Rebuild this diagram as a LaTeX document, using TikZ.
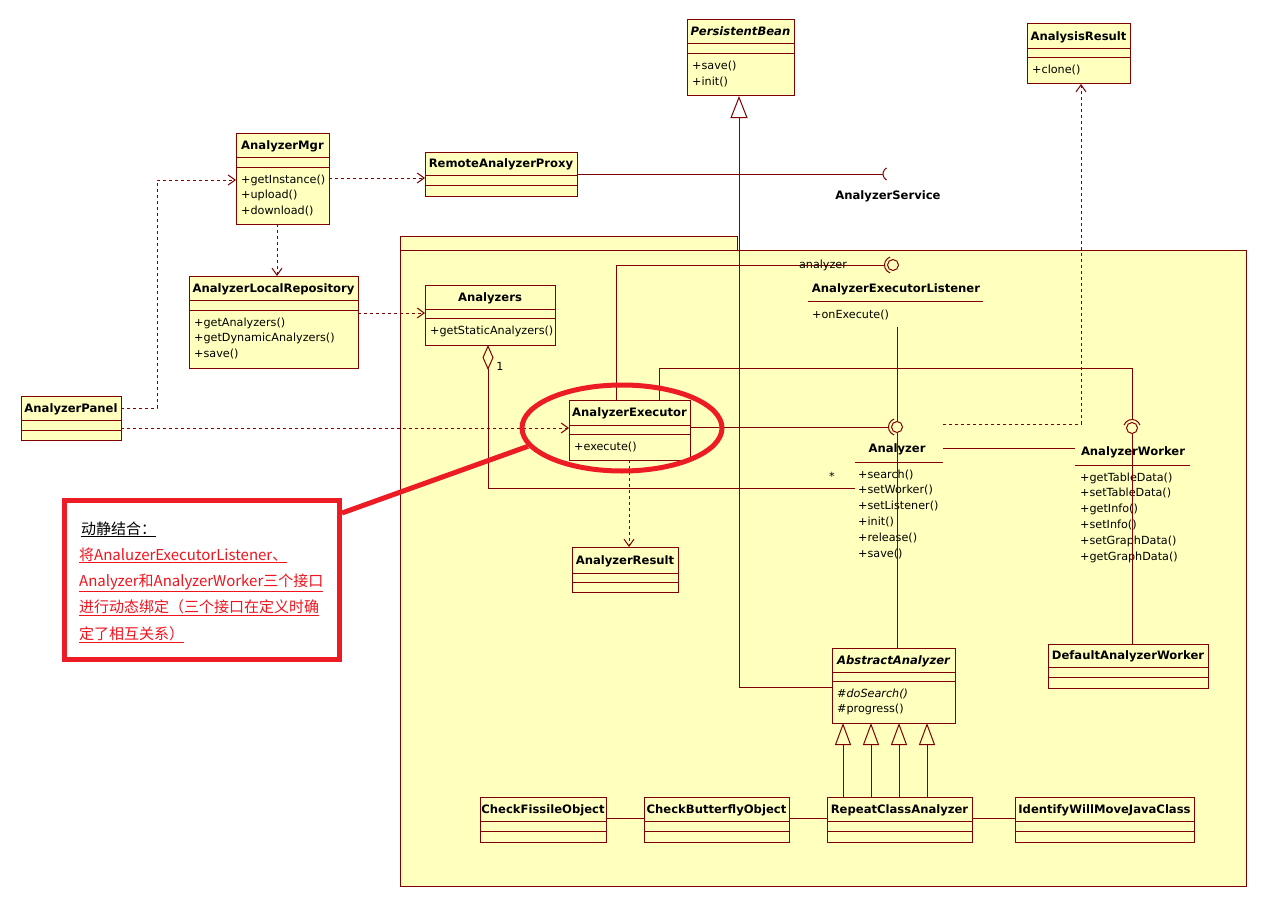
\documentclass[tikz,border=0pt]{standalone}
\usepackage{fontspec}
\setmainfont{DejaVu Sans}
\newfontfamily\cjkfont{Noto Sans CJK SC}
\usetikzlibrary{arrows.meta,shapes.geometric}
\definecolor{umlline}{RGB}{128,0,0}
\definecolor{umlfill}{RGB}{255,255,190}
\definecolor{annred}{RGB}{237,28,36}
\definecolor{anntext}{RGB}{240,20,30}

\newcommand\umlclass[9]{%
  \node[cbox, minimum width={#4-#2}, minimum height={#5-#3}] (#1) at ({(#2+#4)/2},{(#3+#5)/2}) {};
  \draw[cline] (#2,#6) -- (#4,#6) (#2,#7) -- (#4,#7);
  \node[ctitle] (#1-t) at ({(#2+#4)/2},{(#3+#6)/2+4}) {#8};
  \foreach \m [count=\i] in {#9} {\node[mtext] at (#2+5,{#7+16+15.8*(\i-1)}) {\m};}
}

\begin{document}
\begin{tikzpicture}[x=1pt,y=-1pt,
  cbox/.style={draw=umlline, fill=umlfill, line width=1pt, inner sep=0, outer sep=0, rectangle},
  cline/.style={draw=umlline, line width=1pt},
  ctitle/.style={anchor=base, inner sep=0, font=\fontsize{11.6}{14}\selectfont\bfseries},
  mtext/.style={anchor=base west, inner sep=0, font=\fontsize{11.2}{14}\selectfont},
  conn/.style={draw=umlline, line width=1pt},
  dep/.style={conn, dashed, -{Straight Barb[length=7pt,width=10pt]}},
  gen/.style={conn, -{Triangle[open,length=22pt,width=17pt]}},
  ball/.style={circle, draw=umlline, line width=1pt, minimum size=11pt, inner sep=0, fill=umlfill},
  notetxt/.style={anchor=base west, inner sep=0, font=\cjkfont\fontsize{15}{18}\selectfont, text=anntext}
]
\useasboundingbox[fill=white] (0,0) rectangle (1267,907);

% package
\draw[cline, fill=umlfill] (400,236) rectangle (737,250);
\draw[cline, fill=umlfill] (400,250) rectangle (1246,886);

% classes
\umlclass{pbean}{687}{20}{794}{96}{44}{54}{\itshape PersistentBean}{+save(),+init()}
\umlclass{ares}{1027}{24}{1130}{84}{49}{58}{AnalysisResult}{+clone()}
\umlclass{mgr}{236}{133}{329}{224}{157}{167}{AnalyzerMgr}{+getInstance(),+upload(),+download()}
\umlclass{rap}{425}{152}{577}{196}{175}{185}{RemoteAnalyzerProxy}{}
\umlclass{alr}{189}{276}{358}{368}{300}{310}{AnalyzerLocalRepository}{+getAnalyzers(),+getDynamicAnalyzers(),+save()}
\umlclass{azs}{425}{285}{555}{345}{309}{318}{Analyzers}{+getStaticAnalyzers()}
\umlclass{panel}{21}{396}{121}{440}{420}{430}{AnalyzerPanel}{}
\umlclass{exec}{569}{400}{690}{460}{425}{434}{AnalyzerExecutor}{+execute()}
\umlclass{aresult}{572}{547}{678}{592}{573}{582}{AnalyzerResult}{}
\umlclass{abs}{832}{648}{955}{723}{672}{681}{\itshape AbstractAnalyzer}{{\itshape\#doSearch()},\#progress()}
\umlclass{dworker}{1048}{644}{1208}{688}{667}{677}{DefaultAnalyzerWorker}{}
\umlclass{cfo}{480}{797}{606}{842}{821}{831}{CheckFissileObject}{}
\umlclass{cbo}{644}{797}{789}{842}{821}{831}{CheckButterflyObject}{}
\umlclass{rca}{827}{797}{972}{842}{821}{831}{RepeatClassAnalyzer}{}
\umlclass{iwm}{1015}{797}{1194}{842}{821}{831}{IdentifyWillMoveJavaClass}{}

% interfaces
\node[ctitle] (lis) at (896,292) {AnalyzerExecutorListener};
\draw[cline] (808,301) -- (983,301);
\node[mtext] (lisop) at (812,318) {+onExecute()};

\node[ctitle] (anl) at (897,452) {Analyzer};
\draw[cline] (855,462) -- (943,462);
\foreach \m [count=\i] in {+search(),+setWorker(),+setListener(),+init(),+release(),+save()}
  {\node[mtext] at (858,{478+15.8*(\i-1)}) {\m};}

\node[ctitle] (wrk) at (1133,455) {AnalyzerWorker};
\draw[cline] (1075,465) -- (1190,465);
\foreach \m [count=\i] in {+getTableData(),+setTableData(),+getInfo(),+setInfo(),+setGraphData(),+getGraphData()}
  {\node[mtext] at (1080,{481+15.8*(\i-1)}) {\m};}

% lollipops
\node[ball] (ballL) at (893,265) {};
\node[ball] (ballA) at (897,427) {};
\node[ball] (ballW) at (1132,428) {};
\draw[cline] ([shift={(110:8.5pt)}]ballL.center) arc[start angle=110,end angle=250,radius=8.5pt];
\draw[cline] ([shift={(110:8.5pt)}]ballA.center) arc[start angle=110,end angle=250,radius=8.5pt];
\draw[cline] ([shift={(20:8.5pt)}]ballW.center) arc[start angle=20,end angle=160,radius=8.5pt];

% connectors
\coordinate (svc) at (883,174);
\draw[dep] (mgr.east |- 0,178) -- (rap.west |- 0,178);
\draw[conn] (rap.east |- 0,174) -- (svc);
\draw[cline] ([shift={(7pt,0pt)},shift={(120:7pt)}]svc) arc[start angle=120,end angle=240,radius=7pt];
\node[ctitle] (svclbl) at (888,199) {AnalyzerService};

\draw[dep] (mgr.south -| 277,0) -- (alr.north -| 277,0);
\draw[dep] (alr.east |- 0,313) -- (azs.west |- 0,313);
\coordinate (bendP) at (157,180);
\draw[dep] (panel.east |- 0,408) -| (bendP) -- (mgr.west |- bendP);
\draw[dep] (panel.east |- 0,428) -- (exec.west |- 0,428);
\draw[dep] (exec.south -| 629,0) -- (aresult.north -| 629,0);

\draw[conn] (exec.north -| 616,0) |- ([xshift=-8.5pt]ballL.center);
\node[mtext, anchor=base] (azlbl) at (823,268) {analyzer};
\draw[conn] (exec.east |- 0,427) -- ([xshift=-8.5pt]ballA.center);
\draw[conn] (exec.north -| 659,0) |- (ballW |- 0,368) -- ([yshift=8.5pt]ballW.center);
\draw[conn] (ballA |- 0,327) -- (ballA.north);
\draw[conn] (ballA.south) -- (abs.north -| ballA);
\draw[conn] (ballW.south) -- (dworker.north -| ballW);
\coordinate (anlE) at (943,448);
\coordinate (wrkW) at (1075,448);
\draw[conn] (anlE) -- (wrkW);
\coordinate (anlD) at (943,424);
\draw[dep] (anlD) -| (ares.south -| 1081,0);

\draw[conn, {Diamond[open,length=25pt,width=11pt]}-] (azs.south -| 488,0) |- (855,488);
\node[mtext, anchor=base] (one) at (500,370) {1};
\node[mtext, anchor=base] (star) at (832,480) {*};

\draw[gen] (abs.west |- 0,687) -| (pbean.south -| 739,0);
\foreach \x in {843,871,899,927}
  \draw[conn, -{Triangle[open,length=22pt,width=16pt]}] (rca.north -| \x,0) -- (abs.south -| \x,0);

\draw[conn] (cfo.east |- 0,818) -- (cbo.west |- 0,818);
\draw[conn] (cbo.east |- 0,818) -- (rca.west |- 0,818);
\draw[conn] (rca.east |- 0,818) -- (iwm.west |- 0,818);

% annotation
\node[draw=annred, line width=5pt, ellipse, minimum width=200pt, minimum height=86pt, inner sep=0] (ell) at (622,428) {};
\node[draw=annred, line width=5pt, fill=white, minimum width=275pt, minimum height=159pt, inner sep=0] (note) at (202,580) {};
\draw[annred, line width=5pt] (ell.191) -- ([yshift=-15pt]note.north east);
\node[notetxt, text=black] (n1) at (81,534) {\underline{动静结合：}};
\node[notetxt] (n2) at (79,560) {\underline{将AnaluzerExecutorListener、}};
\node[notetxt] (n3) at (79,586) {\underline{Analyzer和AnalyzerWorker三个接口}};
\node[notetxt] (n4) at (79,612) {\underline{进行动态绑定（三个接口在定义时确}};
\node[notetxt] (n5) at (79,639) {\underline{定了相互关系）}};
\end{tikzpicture}
\end{document}
